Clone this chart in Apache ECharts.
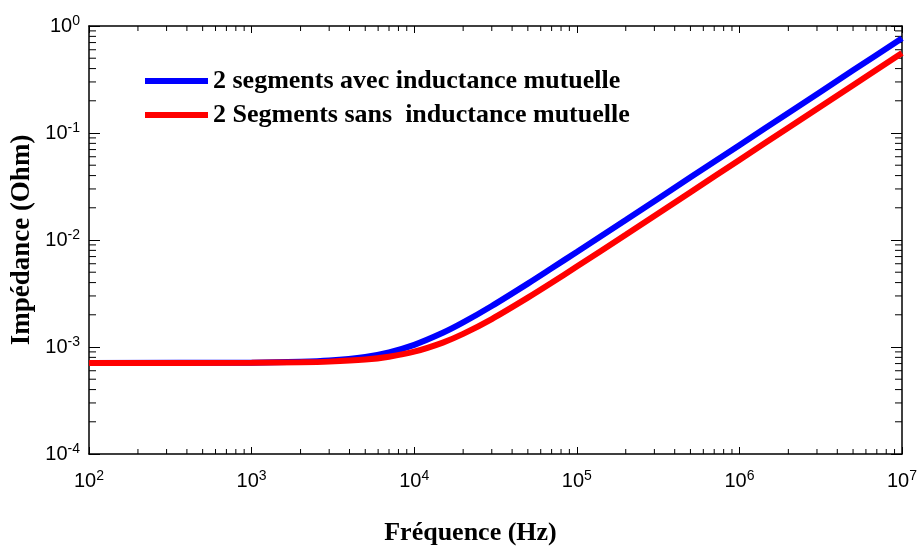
<!DOCTYPE html>
<html><head><meta charset="utf-8">
<script src="https://cdn.jsdelivr.net/npm/echarts@6/dist/echarts.min.js"></script>
<style>html,body{margin:0;padding:0;background:#fff}#c{width:917px;height:547px}</style>
</head><body><div id="c"></div>
<script>
// Frequencies (Hz) sampled along the curves
var freq = [100, 1000, 2000, 3000, 5000, 7000, 10000, 15000, 20000, 30000, 50000, 70000, 100000, 200000, 500000, 1000000, 2000000, 5000000, 10000000];
// Impedance (Ohm), with mutual inductance
var zAvec = [7.1e-4, 7.14e-4, 7.27e-4, 7.47e-4, 8.08e-4, 8.91e-4, 1.047e-3, 1.356e-3, 1.695e-3, 2.417e-3, 3.914e-3, 5.44e-3, 7.73e-3, 0.0154, 0.0385, 0.077, 0.154, 0.385, 0.77];
// Impedance (Ohm), without mutual inductance
var zSans = [7.1e-4, 7.12e-4, 7.19e-4, 7.30e-4, 7.63e-4, 8.11e-4, 9.04e-4, 1.10e-3, 1.326e-3, 1.824e-3, 2.89e-3, 3.98e-3, 5.65e-3, 0.0112, 0.028, 0.056, 0.112, 0.28, 0.56];
var seriesNames = ['2 segments avec inductance mutuelle', '2 Segments sans  inductance mutuelle'];
var xName = 'Fréquence (Hz)';
var yName = 'Impédance (Ohm)';

var xMinor = [], yMinor = [];
for (var d = 2; d <= 6; d++) for (var m = 2; m <= 9; m++) xMinor.push([m * Math.pow(10, d), 1e-2]);
for (var e = -4; e <= -1; e++) for (var m2 = 2; m2 <= 9; m2++) yMinor.push([1e3, m2 * Math.pow(10, e)]);

function pow10Label(v) {
  var ex = Math.round(Math.log10(v));
  return '{b|10}{s|' + ex + '}';
}
var labRich = {
  b: {fontFamily: 'Liberation Sans', fontSize: 20, color: '#000'},
  s: {fontFamily: 'Liberation Sans', fontSize: 14, color: '#000', padding: [0, 0, 10, 0]}
};
var lineStyleAxis = {color: '#000', width: 1.5};
function xAx(pos, show) {
  return {
    type: 'log', logBase: 10, min: 100, max: 1e7, splitNumber: 5, position: pos,
    axisLine: {show: true, onZero: false, lineStyle: lineStyleAxis},
    axisTick: {show: true, inside: true, length: 7, lineStyle: {color: '#000', width: 1}},
    axisLabel: {show: show, margin: 15, formatter: pow10Label, rich: labRich},
    splitLine: {show: false},
    name: show ? xName : '', nameLocation: 'middle', nameGap: 66,
    nameTextStyle: {fontFamily: 'Liberation Serif', fontWeight: 'bold', fontSize: 26, color: '#000', padding: [0, 50, 0, 0]}
  };
}
function yAx(pos, show) {
  return {
    type: 'log', logBase: 10, min: 1e-4, max: 1, splitNumber: 4, position: pos,
    axisLine: {show: true, onZero: false, lineStyle: lineStyleAxis},
    axisTick: {show: true, inside: true, length: 11, lineStyle: {color: '#000', width: 1}},
    axisLabel: {show: show, margin: 9, formatter: pow10Label, rich: labRich},
    splitLine: {show: false},
    name: show ? yName : '', nameLocation: 'middle', nameGap: 53, nameMoveOverlap: false,
    nameTextStyle: {fontFamily: 'Liberation Serif', fontWeight: 'bold', fontSize: 27, color: '#000'}
  };
}
var chart = echarts.init(document.getElementById('c'), null, {renderer: 'canvas'});
chart.setOption({
  backgroundColor: '#fff',
  animation: false,
  grid: {left: 89, right: 15, top: 26, bottom: 93, containLabel: false, outerBoundsMode: 'none'},
  xAxis: [xAx('bottom', true), xAx('top', false)],
  yAxis: [yAx('left', true), yAx('right', false)],
  legend: {
    data: seriesNames, orient: 'vertical', left: 145, top: 68, padding: 0,
    icon: 'rect', itemWidth: 63, itemHeight: 6, itemGap: 8,
    textStyle: {fontFamily: 'Liberation Serif', fontWeight: 'bold', fontSize: 26, color: '#000'}
  },
  series: [
    {name: seriesNames[0], type: 'line', xAxisIndex: 0, yAxisIndex: 0, showSymbol: false, smooth: 0.3,
     lineStyle: {color: '#0000ff', width: 6}, itemStyle: {color: '#0000ff'},
     data: freq.map(function (f, i) { return [f, zAvec[i]]; })},
    {name: seriesNames[1], type: 'line', xAxisIndex: 0, yAxisIndex: 0, showSymbol: false, smooth: 0.3,
     lineStyle: {color: '#ff0000', width: 6}, itemStyle: {color: '#ff0000'},
     data: freq.map(function (f, i) { return [f, zSans[i]]; })},
    {type: 'custom', silent: true, clip: false, xAxisIndex: 0, yAxisIndex: 0, data: xMinor,
     renderItem: function (p, api) {
       var v = api.value(0);
       var b = api.coord([v, 1e-4]), t = api.coord([v, 1]);
       return {type: 'group', children: [
         {type: 'line', shape: {x1: b[0], y1: b[1], x2: b[0], y2: b[1] - 5}, style: {stroke: '#000', lineWidth: 1}},
         {type: 'line', shape: {x1: t[0], y1: t[1], x2: t[0], y2: t[1] + 5}, style: {stroke: '#000', lineWidth: 1}}
       ]};
     }},
    {type: 'custom', silent: true, clip: false, xAxisIndex: 0, yAxisIndex: 0, data: yMinor,
     renderItem: function (p, api) {
       var v = api.value(1);
       var l = api.coord([100, v]), r = api.coord([1e7, v]);
       return {type: 'group', children: [
         {type: 'line', shape: {x1: l[0], y1: l[1], x2: l[0] + 7, y2: l[1]}, style: {stroke: '#000', lineWidth: 1}},
         {type: 'line', shape: {x1: r[0], y1: r[1], x2: r[0] - 7, y2: r[1]}, style: {stroke: '#000', lineWidth: 1}}
       ]};
     }}
  ]
});
</script></body></html>
